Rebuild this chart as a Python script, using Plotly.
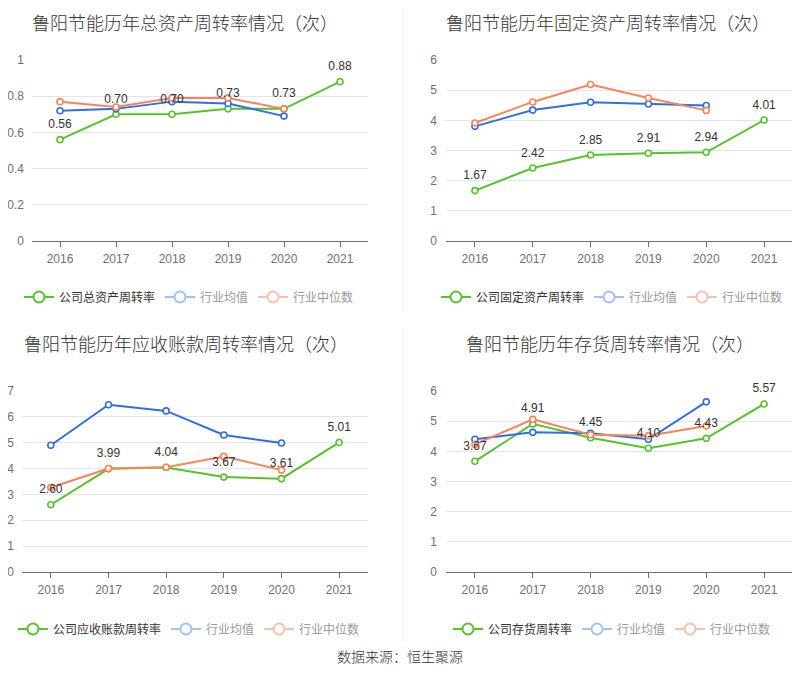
import plotly.graph_objects as go
from plotly.subplots import make_subplots

years = ["2016", "2017", "2018", "2019", "2020", "2021"]
years_ind = ["2016", "2017", "2018", "2019", "2020"]

# 总资产周转率
total_company = [0.56, 0.70, 0.70, 0.73, 0.73, 0.88]
total_avg = [0.72, 0.73, 0.77, 0.76, 0.69]
total_median = [0.77, 0.74, 0.79, 0.79, 0.73]

# 固定资产周转率
fixed_company = [1.67, 2.42, 2.85, 2.91, 2.94, 4.01]
fixed_avg = [3.80, 4.34, 4.60, 4.54, 4.49]
fixed_median = [3.91, 4.61, 5.19, 4.74, 4.33]

# 应收账款周转率
recv_company = [2.60, 3.99, 4.04, 3.67, 3.61, 5.01]
recv_avg = [4.90, 6.47, 6.23, 5.30, 4.99]
recv_median = [3.27, 4.00, 4.05, 4.47, 3.94]

# 存货周转率
inv_company = [3.67, 4.91, 4.45, 4.10, 4.43, 5.57]
inv_avg = [4.40, 4.63, 4.60, 4.40, 5.64]
inv_median = [4.23, 5.06, 4.55, 4.52, 4.84]

titles = ["鲁阳节能历年总资产周转率情况（次）", "鲁阳节能历年固定资产周转率情况（次）",
          "鲁阳节能历年应收账款周转率情况（次）", "鲁阳节能历年存货周转率情况（次）"]
company_names = ["公司总资产周转率", "公司固定资产周转率", "公司应收账款周转率", "公司存货周转率"]

GREEN = "#58c22c"
BLUE = "#2f6fe4"
ORANGE = "#f7845a"
FONT = "Liberation Sans, Noto Sans CJK SC, sans-serif"
TFONT = "Noto Sans CJK SC, sans-serif"
W, H = 800, 689
OFF = 8  # page body margin

panels = [
    (total_company, total_avg, total_median, [0, 1], 0.2),
    (fixed_company, fixed_avg, fixed_median, [0, 6], 1),
    (recv_company, recv_avg, recv_median, [0, 7], 1),
    (inv_company, inv_avg, inv_median, [0, 6], 1),
]

# pixel boxes in screenshot: (x0, x1, ytop, ybottom)
boxes = [(32, 368, 60, 241), (446, 793, 60, 241), (22, 368, 391, 572), (446, 793, 391, 572)]
title_pos = [(185, 13), (608, 13), (186, 343), (610, 343)]
legend_pos = [(189, 297), (612, 297), (189, 629), (612, 629)]
standoffs = [7, 8, 7, 8]


def px(x):
    return (x - OFF) / W


def py(y):
    return 1 - (y - OFF) / H


fig = make_subplots(rows=2, cols=2)

for i, (comp, avg, med, yr, dt) in enumerate(panels):
    row, col = i // 2 + 1, i % 2 + 1
    lg = "legend" if i == 0 else "legend%d" % (i + 1)
    for xs, ys, c in [(years, comp, GREEN), (years_ind, avg, BLUE), (years_ind, med, ORANGE)]:
        fig.add_trace(go.Scatter(x=xs, y=ys, mode="lines+markers", showlegend=False,
                                 line=dict(color=c, width=2),
                                 marker=dict(symbol="circle", size=6, color="white",
                                             line=dict(color=c, width=1.6))), row=row, col=col)
    # data labels on top
    fig.add_trace(go.Scatter(x=years, y=comp, mode="markers+text", showlegend=False,
                             text=["%.2f" % v for v in comp], textposition="top center",
                             textfont=dict(size=12, color="#333333", family=FONT),
                             cliponaxis=False,
                             marker=dict(size=12, opacity=0), hoverinfo="skip"), row=row, col=col)
    # legend entries
    for name, c, tc in [(company_names[i], GREEN, "#333333"),
                        ("行业均值", "#a3c1f5", "#999999"),
                        ("行业中位数", "#f9c1ac", "#999999")]:
        fig.add_trace(go.Scatter(x=[None], y=[None], mode="lines+markers",
                                 name="<span style='color:%s'>%s</span>" % (tc, name),
                                 legend=lg,
                                 line=dict(color=c, width=2),
                                 marker=dict(symbol="circle", size=11, color="white",
                                             line=dict(color=c, width=2))), row=row, col=col)

    x0, x1, yt, yb = boxes[i]
    xa = "xaxis" if i == 0 else "xaxis%d" % (i + 1)
    ya = "yaxis" if i == 0 else "yaxis%d" % (i + 1)
    fig.layout[xa].update(domain=[px(x0), px(x1)], type="category", range=[-0.5, 5.5],
                          categoryorder="array", categoryarray=years,
                          showgrid=False, showline=True, linecolor="#6e7079", linewidth=1,
                          ticks="outside", ticklen=5, tickcolor="#6e7079",
                          tickfont=dict(size=12, color="#6e7079", family=FONT),
                          ticklabelstandoff=2, zeroline=False, fixedrange=True,
                          automargin=False)
    fig.layout[ya].update(domain=[py(yb), py(yt)], range=yr, dtick=dt,
                          showgrid=True, gridcolor="#e0e6f1", gridwidth=1,
                          showline=False, zeroline=False, ticks="",
                          tickfont=dict(size=12, color="#6e7079", family=FONT),
                          ticklabelstandoff=standoffs[i], fixedrange=True, automargin=False)

    lx, ly = legend_pos[i]
    fig.layout[lg] = dict(orientation="h", x=px(lx), y=py(ly), xanchor="center",
                          yanchor="middle", font=dict(size=12, family=FONT),
                          bgcolor="rgba(0,0,0,0)", itemwidth=30)

    tx, ty = title_pos[i]
    if i < 2:
        # top row titles: keep inside the page top edge
        fig.add_annotation(text=titles[i], xref="paper", yref="paper", x=px(tx), y=1,
                           xanchor="center", yanchor="top", showarrow=False, borderpad=0,
                           font=dict(size=18, color="#333333", family=TFONT, weight=300))
    else:
        fig.add_annotation(text=titles[i], xref="paper", yref="paper", x=px(tx), y=py(ty),
                           xanchor="center", yanchor="middle", showarrow=False, borderpad=0,
                           font=dict(size=18, color="#333333", family=TFONT, weight=300))

fig.add_annotation(text="数据来源：恒生聚源", xref="paper", yref="paper", x=px(400), y=py(656),
                   xanchor="center", yanchor="middle", showarrow=False,
                   font=dict(size=14, color="#333333", family=TFONT, weight=300))

fig.add_shape(type="line", xref="paper", yref="paper", x0=px(403), x1=px(403),
              y0=py(311), y1=1, line=dict(color="#eeeeee", width=1))
fig.add_shape(type="line", xref="paper", yref="paper", x0=px(403), x1=px(403),
              y0=py(642), y1=py(331), line=dict(color="#eeeeee", width=1))

fig.update_layout(width=W, height=H, margin=dict(l=0, r=0, t=0, b=0, autoexpand=False),
                  plot_bgcolor="white", paper_bgcolor="white",
                  font=dict(family=FONT), hovermode=False)

fig.write_html("out.html")
